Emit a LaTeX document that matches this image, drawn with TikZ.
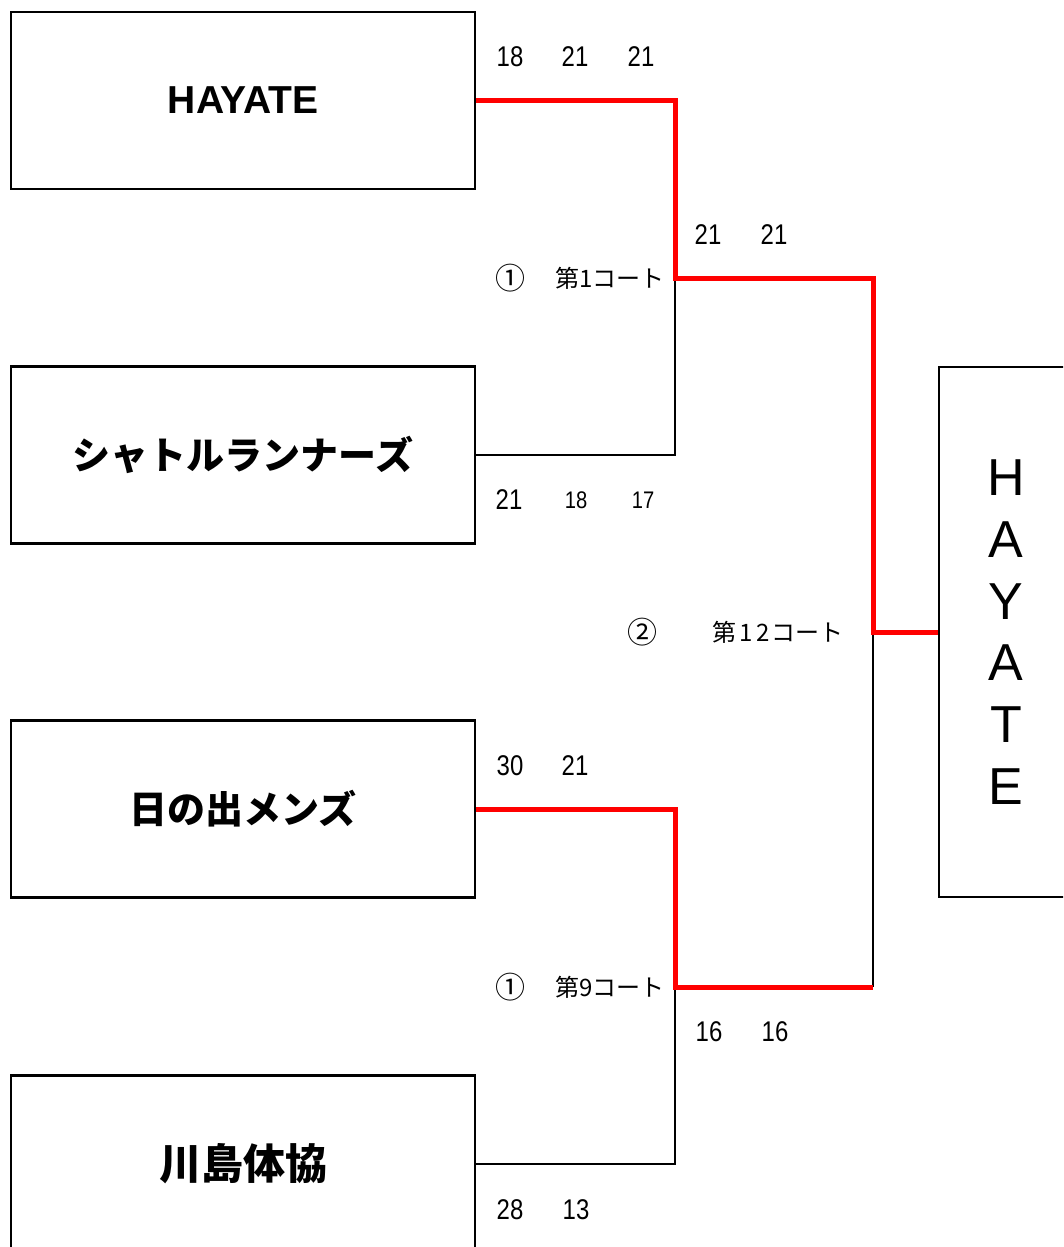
\documentclass[tikz,border=0pt]{standalone}
\usepackage{fontspec}
\setmainfont{Liberation Sans}
\newfontfamily\jp{Noto Sans CJK JP}
\newfontfamily\numf[FakeStretch=0.84]{Liberation Sans}
\begin{document}
\begin{tikzpicture}[x=1pt,y=-1pt,
  team/.style={draw, line width=2.5pt, minimum width=464pt, minimum height=177pt, inner sep=0pt},
  jpname/.style={font=\jp\bfseries\fontsize{38}{40}\selectfont},
  score/.style={inner sep=0pt, font=\numf\fontsize{28.5}{30}\selectfont},
  smallscore/.style={inner sep=0pt, font=\numf\fontsize{24}{26}\selectfont},
  court/.style={inner sep=0pt, font=\jp\fontsize{24}{26}\selectfont},
  circnum/.style={inner sep=0pt, font=\jp\fontsize{30}{32}\selectfont},
  winline/.style={draw=red, line width=5pt},
  loseline/.style={draw=black, line width=2pt},
  vletter/.style={inner sep=0pt, font=\fontsize{52}{54}\selectfont}]
\clip (0,0) rectangle (1063,1247);
\fill[white] (0,0) rectangle (1063,1247);

% team boxes
\node[team, font=\bfseries\fontsize{39}{42}\selectfont] (b1) at (243,100.5) {HAYATE};
\node[team, jpname] (b2) at (243,455) {シャトルランナーズ};
\node[team, jpname] (b3) at (243,809) {日の出メンズ};
\node[team, jpname, font=\jp\bfseries\fontsize{42}{44}\selectfont] (b4) at (243,1164) {川島体協};
\node[team, minimum width=161pt, minimum height=530pt] (w) at (1019.5,632) {};

% winner letters
\node[vletter] (w1) at (1006,478) {H};
\node[vletter] (w2) at (1006,540) {A};
\node[vletter] (w3) at (1006,602) {Y};
\node[vletter] (w4) at (1006,663) {A};
\node[vletter] (w5) at (1006,725) {T};
\node[vletter] (w6) at (1006,787) {E};

% junctions
\coordinate (j1) at (675,278);
\coordinate (j2) at (675,987);
\coordinate (j3) at (873,632);
\coordinate (j4) at (873,987);

% losing lines
\draw[loseline] (b2.east) -| (j1);
\draw[loseline] (b4.east) -| (j2);
\draw[loseline] (j4) -- (j3);

% winning lines
\draw[winline] (b1.east) -| (j1) -| (j3) -- (w.west);
\draw[winline] (b3.east) -| (j2) -- (j4);

% scores
\node[score] (s1) at (510,57) {18};
\node[score] (s2) at (575,57) {21};
\node[score] (s3) at (641,57) {21};
\node[score] (s4) at (708,235) {21};
\node[score] (s5) at (774,235) {21};
\node[score] (s6) at (509,500) {21};
\node[smallscore] (s7) at (576,500) {18};
\node[smallscore] (s8) at (643,500) {17};
\node[score] (s9) at (510,766) {30};
\node[score] (s10) at (575,766) {21};
\node[score] (s11) at (709,1032) {16};
\node[score] (s12) at (775,1032) {16};
\node[score] (s13) at (510,1210) {28};
\node[score] (s14) at (576,1210) {13};

% courts
\node[circnum] (c1n) at (510,278) {①};
\node[court, anchor=west] (c1) at (555,278) {第1コート};
\node[circnum] (c2n) at (642,632) {②};
\node[court, anchor=west] (c2) at (712,632) {第\hspace{3pt}1\hspace{4pt}2\hspace{2pt}コート};
\node[circnum] (c3n) at (510,987) {①};
\node[court, anchor=west] (c3) at (555,987) {第9コート};
\end{tikzpicture}
\end{document}
